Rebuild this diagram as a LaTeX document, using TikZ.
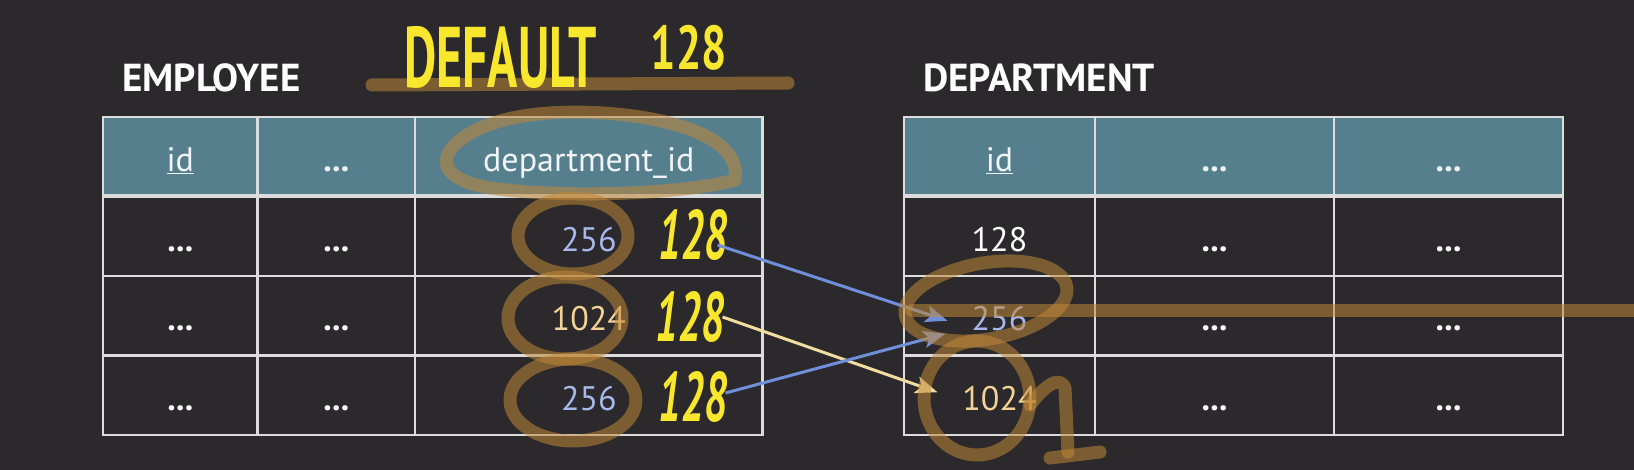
\documentclass[tikz,border=0pt]{standalone}
\usepackage{fontspec}
\setmainfont{PT Sans}
\usepackage{graphicx}
\usetikzlibrary{positioning}
\usetikzlibrary{arrows.meta}

\definecolor{bgdark}{HTML}{2B292C}
\definecolor{hdrteal}{HTML}{567F8E}
\definecolor{hdrtext}{HTML}{F0F4F6}
\definecolor{gridline}{HTML}{DCDCDC}
\definecolor{fkblue}{HTML}{A8B8EC}
\definecolor{fkorange}{HTML}{F4D496}
\definecolor{arrowblue}{HTML}{6F8FDA}
\definecolor{arroworange}{HTML}{F1DCA0}
\definecolor{handyellow}{HTML}{F8E72C}
\definecolor{brush}{HTML}{C08838}

\newcommand{\cellfont}{\fontsize{34}{36}\selectfont}
\newcommand{\tabtitlefont}{\fontsize{39}{42}\selectfont\bfseries}
\newcommand{\handnum}[1]{\scalebox{0.6}[1]{\fontsize{70}{70}\selectfont\bfseries\itshape #1}}
\newcommand{\more}{\textbf{...}}

\begin{document}
\begin{tikzpicture}[x=1pt, y=-1pt, font=\cellfont,
  tabcell/.style={draw=gridline, line width=2.4pt, inner sep=0pt, outer sep=0pt,
    minimum height=79.5pt, text height=30pt, text depth=0pt, fill=bgdark, text=white},
  hdr/.style={tabcell, fill=hdrteal, text=hdrtext},
  ttl/.style={font=\tabtitlefont, text=white, anchor=base west, inner sep=0pt},
  hand/.style={text=handyellow, inner sep=0pt},
  brushstroke/.style={draw=brush, line width=13pt, draw opacity=0.55, line cap=round, line join=round},
  fk/.style={line width=3pt, -{Stealth[length=22pt, width=17pt, inset=5pt]}}
]
\clip (0,0) rectangle (1634,470);
\fill[bgdark] (0,0) rectangle (1634,470);

% EMPLOYEE table
\node[ttl] (etitle) at (122,92) {EMPLOYEE};
\node[hdr, minimum width=154.6pt, anchor=north west] (e01) at (103,117) {\underline{id}};
\node[hdr, minimum width=157.4pt, right=0pt of e01] (e02) {\more};
\node[hdr, minimum width=347.6pt, right=0pt of e02] (e03) {department\_id};
\foreach \r/\p/\v/\c in {1/0/256/fkblue, 2/1/1024/fkorange, 3/2/256/fkblue}{
  \node[tabcell, minimum width=154.6pt, below=0pt of e\p1] (e\r1) {\more};
  \node[tabcell, minimum width=157.4pt, below=0pt of e\p2] (e\r2) {\more};
  \node[tabcell, minimum width=347.6pt, below=0pt of e\p3, text=\c] (e\r3) {\v};
}
\draw[gridline, line width=4pt] (e01.south west) -- (e03.south east);

% DEPARTMENT table
\node[ttl] (dtitle) at (923,92) {DEPARTMENT};
\node[hdr, minimum width=191pt, anchor=north west] (d01) at (904,117) {\underline{id}};
\node[hdr, minimum width=239pt, right=0pt of d01] (d02) {\more};
\node[hdr, minimum width=229pt, right=0pt of d02] (d03) {\more};
\foreach \r/\p/\v/\c in {1/0/128/white, 2/1/256/fkblue, 3/2/1024/fkorange}{
  \node[tabcell, minimum width=191pt, below=0pt of d\p1, text=\c] (d\r1) {\v};
  \node[tabcell, minimum width=239pt, below=0pt of d\p2] (d\r2) {\more};
  \node[tabcell, minimum width=229pt, below=0pt of d\p3] (d\r3) {\more};
}
\draw[gridline, line width=4pt] (d01.south west) -- (d03.south east);

% handwritten defaults
\node[hand] (hw1) at (693,235) {\handnum{128}};
\node[hand] (hw2) at (690,317) {\handnum{128}};
\node[hand] (hw3) at (693,397) {\handnum{128}};

% references
\draw[fk, arrowblue] ([xshift=-10pt,yshift=-10pt]hw1.east) -- ([xshift=-52pt,yshift=-5pt]d21.center);
\draw[fk, arroworange] ([xshift=-2pt]hw2.east) -- ([xshift=-62pt,yshift=3pt]d31.center);
\draw[fk, arrowblue] ([xshift=-2pt,yshift=4pt]hw3.east) -- ([xshift=-54pt,yshift=-18pt]d21.center);

% highlighter
\draw[brushstroke] (372,85) -- (788,83);
\draw[brushstroke] (735,180) .. controls (745,120) and (600,105) .. (530,115)
  .. controls (450,125) and (410,175) .. (490,188) .. controls (560,198) and (680,195) .. (735,180);
\draw[brushstroke] (573,236) ellipse [x radius=55, y radius=38];
\draw[brushstroke] (565,318) ellipse [x radius=57, y radius=41];
\draw[brushstroke] (573,400) ellipse [x radius=63, y radius=41];
\draw[brushstroke] (986,301) ellipse [x radius=82, y radius=38, rotate=10];
\draw[brushstroke] (977,398) ellipse [x radius=53, y radius=57];
\draw[brushstroke] (1030,405) .. controls (1045,385) and (1060,375) .. (1065,388) -- (1068,452);
\draw[brushstroke] (1050,458) -- (1100,452);
\draw[brushstroke] (912,311) -- (1640,311);

% DEFAULT note
\node[hand, anchor=base west] (deflt) at (404,88)
  {\scalebox{0.58}[1]{\fontsize{86}{86}\selectfont\bfseries DEFAULT}\hspace{54pt}\raisebox{18pt}{\scalebox{0.72}[1]{\fontsize{62}{62}\selectfont\bfseries 128}}};
\end{tikzpicture}
\end{document}
